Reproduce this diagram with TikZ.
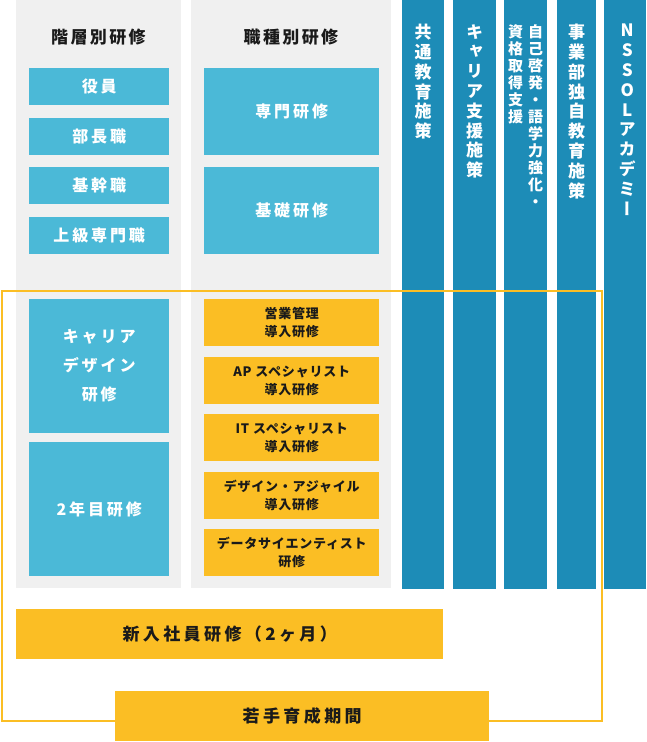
\documentclass[tikz,border=0pt]{standalone}
\usepackage{fontspec}
\setmainfont{Noto Sans CJK JP}
\usetikzlibrary{positioning}

\definecolor{lblue}{HTML}{4BB9D7}
\definecolor{dblue}{HTML}{1D8CB7}
\definecolor{amber}{HTML}{FBBE24}
\definecolor{pale}{HTML}{F0F0F0}
\definecolor{ink}{HTML}{1A1A1A}

\tikzset{
    colbg/.style={fill=pale},
    head/.style={text=ink,inner sep=0pt,font=\bfseries\fontsize{17}{20}\selectfont\addfontfeature{LetterSpace=14}},
    lbox/.style={anchor=north west,fill=lblue,text=white,inner sep=0pt,align=center,
        font=\bfseries\fontsize{16}{29}\selectfont\addfontfeature{LetterSpace=18}},
    obox/.style={anchor=north west,fill=amber,text=ink,inner sep=0pt,align=center,
        font=\bfseries\fontsize{13}{18}\selectfont\addfontfeature{LetterSpace=6}},
    wbox/.style={anchor=north west,fill=amber,text=ink,inner sep=0pt,
        font=\bfseries\fontsize{17}{20}\selectfont\addfontfeature{LetterSpace=20}},
    bar/.style={anchor=north west,fill=dblue,inner sep=0pt,minimum height=589pt},
    vtext/.style={anchor=north,text=white,inner sep=0pt,align=center,
        font=\bfseries\fontsize{17}{19.8}\selectfont\addfontfeature{RawFeature=+vert}},
    vsmall/.style={vtext,font=\bfseries\fontsize{15}{17}\selectfont\addfontfeature{RawFeature=+vert}},
    frame/.style={draw=amber,line width=2pt}
}

\begin{document}
\begin{tikzpicture}[x=1pt,y=-1pt]
\useasboundingbox (0,0) rectangle (646,742);

% Grey columns.
\fill[colbg] (16,0) rectangle (181,588);
\fill[colbg] (191,0) rectangle (391,588);

% Column heads.
\node[head] (hlevel) at (98.5,37) {階層別研修};
\node[head] (hjob) at (291,37) {職種別研修};

% Dark blue bars with vertical text.
\node[bar,minimum width=42pt] (bar1) at (402,0) {};
\node[bar,minimum width=43pt] (bar2) at (453,0) {};
\node[bar,minimum width=43pt] (bar3) at (504,0) {};
\node[bar,minimum width=39pt] (bar4) at (557,0) {};
\node[bar,minimum width=42pt] (bar5) at (604,0) {};

\node[vtext,below=24pt of bar1.north] (t1) {共\\通\\教\\育\\施\\策};
\node[vtext,below=24pt of bar2.north] (t2) {キ\\ャ\\リ\\ア\\支\\援\\施\\策};
\node[vsmall,below=24pt of bar3.north,xshift=10pt] (t3a) {自\\己\\啓\\発\\・\\語\\学\\力\\強\\化\\・};
\node[vsmall,below=24pt of bar3.north,xshift=-10pt] (t3b) {資\\格\\取\\得\\支\\援};
\node[vtext,below=24pt of bar4.north] (t4) {事\\業\\部\\独\\自\\教\\育\\施\\策};
\node[vtext,below=24pt of bar5.north,xshift=2pt] (t5) {N\\S\\S\\O\\L\\ア\\カ\\デ\\ミ\\ー};

% Young staff frame.
\draw[frame] (2,291) rectangle (602,721);

% Level boxes.
\node[lbox,minimum width=140pt,minimum height=37pt] (exec) at (29,68) {役員};
\node[lbox,minimum width=140pt,minimum height=37pt] (gm) at (29,118) {部長職};
\node[lbox,minimum width=140pt,minimum height=37pt] (core) at (29,167) {基幹職};
\node[lbox,minimum width=140pt,minimum height=37pt] (senior) at (29,217) {上級専門職};
\node[lbox,minimum width=140pt,minimum height=134pt] (career) at (29,299) {キャリア\\デザイン\\研修};
\node[lbox,minimum width=140pt,minimum height=134pt] (second) at (29,442) {2年目研修};

% Job boxes.
\node[lbox,minimum width=175pt,minimum height=87pt] (expert) at (204,68) {専門研修};
\node[lbox,minimum width=175pt,minimum height=87pt] (basic) at (204,167) {基礎研修};

\foreach \y/\n/\t in {299/sales/営業管理\\導入研修,
                      357/ap/AP スペシャリスト\\導入研修,
                      414/it/IT スペシャリスト\\導入研修,
                      472/agile/デザイン・アジャイル\\導入研修,
                      529/data/データサイエンティスト\\研修} {
    \node[obox,minimum width=175pt,minimum height=47pt] (\n) at (204,\y) {\t};
}

% Bottom boxes.
\node[wbox,minimum width=427pt,minimum height=50pt] (newhire) at (16,609) {新入社員研修（2ヶ月）};
\node[wbox,minimum width=374pt,minimum height=50pt] (young) at (115,691) {若手育成期間};
\end{tikzpicture}
\end{document}
